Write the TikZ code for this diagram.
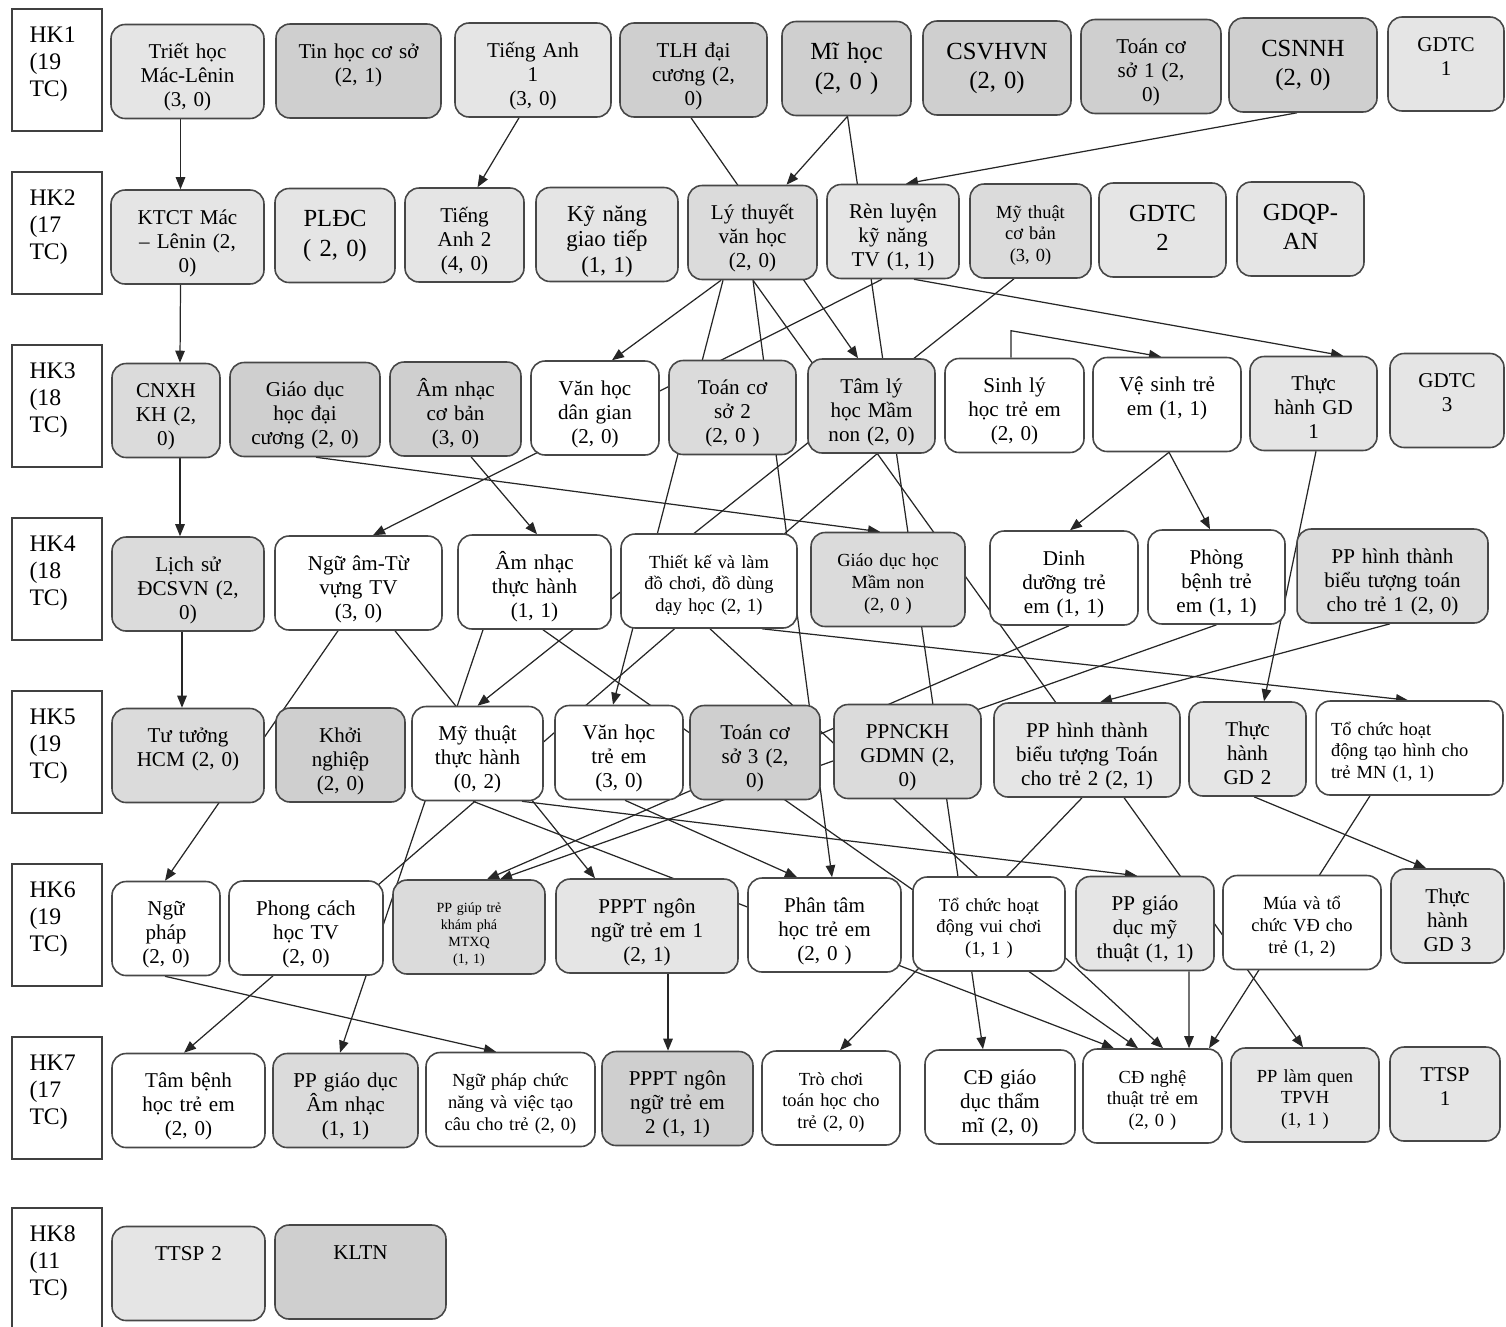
\documentclass[tikz,border=0pt]{standalone}
\usepackage{fontspec}
\setmainfont{Liberation Serif}
\usetikzlibrary{arrows.meta,calc,backgrounds}

\begin{document}
\begin{tikzpicture}[x=0.02cm, y=-0.02cm]
        \tikzstyle{hocky}=[draw=black!75, line width=0.9pt, fill=white, rectangle, align=left, text width=1.1cm, inner xsep=0.35cm, inner ysep=0pt, text height=0.66cm, text depth=1.78cm, font=\fontsize{13.5}{15.4}\selectfont]
        \tikzstyle{mon}=[draw=black!72, line width=0.9pt, rounded corners=0.28cm, fill=white, align=center, inner xsep=0.1cm, inner ysep=0pt, text height=0.68cm, text depth=1.2cm, font=\fontsize{12}{13.7}\selectfont]
        \tikzstyle{chulon}=[text height=0.76cm, text depth=1.12cm, font=\fontsize{14}{16.8}\selectfont]
        \tikzstyle{chunho}=[font=\fontsize{10.5}{12.5}\selectfont]
        \tikzstyle{chutinho}=[text height=0.64cm, text depth=1.24cm, font=\fontsize{8}{9.8}\selectfont]
        \tikzstyle{xamnhat}=[fill=black!10]
        \tikzstyle{xam}=[fill=black!14]
        \tikzstyle{xamdam}=[fill=black!19]
        \tikzstyle{day}=[line width=0.7pt, draw=black!85]
        \tikzstyle{mui}=[day, -{Triangle[length=2.4mm, width=1.9mm]}]

        \useasboundingbox (0,0) rectangle (1506,1326);

        \node (hk1) at (57,70)[hocky]{HK1\\(19\\TC)};
        \node (hk2) at (57,233)[hocky]{HK2\\(17\\TC)};
        \node (hk3) at (57,406)[hocky]{HK3\\(18\\TC)};
        \node (hk4) at (57,579)[hocky]{HK4\\(18\\TC)};
        \node (hk5) at (57,752)[hocky]{HK5\\(19\\TC)};
        \node (hk6) at (57,925)[hocky]{HK6\\(19\\TC)};
        \node (hk7) at (57,1098)[hocky]{HK7\\(17\\TC)};
        \node (hk8) at (57,1269)[hocky]{HK8\\(11\\TC)};

        \node (tr) at (187.5,71.5)[mon, xamnhat, text width=2.86cm]{Triết học\\Mác-Lênin\\(3, 0)};
        \node (th) at (358.5,71)[mon, xamdam, text width=3.1cm]{Tin học cơ sở\\(2, 1)};
        \node (ta1) at (533,70)[mon, xamnhat, text width=2.92cm]{Tiếng Anh\\1\\(3, 0)};
        \node (tlh) at (693.5,70)[mon, xamdam, text width=2.74cm]{TLH đại\\cương (2,\\0)};
        \node (mh) at (846.5,68.5)[mon, chulon, xamdam, text width=2.38cm]{Mĩ học\\(2, 0 )};
        \node (csv) at (997,68)[mon, chulon, xamdam, text width=2.76cm]{CSVHVN\\(2, 0)};
        \node (tcs1) at (1151,66.5)[mon, xamdam, text width=2.6cm]{Toán cơ\\sở 1 (2,\\0)};
        \node (csn) at (1303,65)[mon, chulon, xamdam, text width=2.76cm]{CSNNH\\(2, 0)};
        \node (gd1) at (1446,64)[mon, xamnhat, text width=2.12cm]{GDTC\\1};

        \node (ktct) at (187.5,237)[mon, xamnhat, text width=2.86cm]{KTCT Mác\\– Lênin (2,\\0)};
        \node (pldc) at (335,235.5)[mon, chulon, xamnhat, text width=2.2cm]{PLĐC\\( 2, 0)};
        \node (ta2) at (464.5,235)[mon, xamnhat, text width=2.18cm]{Tiếng\\Anh 2\\(4, 0)};
        \node (kn) at (607,234.5)[mon, xamnhat, text width=2.64cm, font=\fontsize{13}{14.5}\selectfont]{Kỹ năng\\giao tiếp\\(1, 1)};
        \node (ltvh) at (752.5,232.5)[mon, xam, text width=2.38cm]{Lý thuyết\\văn học\\(2, 0)};
        \node (rl) at (893,231.5)[mon, xamnhat, text width=2.44cm]{Rèn luyện\\kỹ năng\\TV (1, 1)};
        \node (mtcb) at (1030.5,231)[mon, chunho, xam, text width=2.22cm]{Mỹ thuật\\cơ bản\\(3, 0)};
        \node (gd2) at (1162.5,230)[mon, chulon, xamnhat, text width=2.34cm]{GDTC\\2};
        \node (gdqp) at (1300.5,229)[mon, chulon, xamnhat, text width=2.34cm]{GDQP-\\AN};

        \node (cnxh) at (166,410.5)[mon, xam, text width=1.96cm]{CNXH\\KH (2,\\0)};
        \node (gdhdc) at (305,409.5)[mon, xamdam, text width=2.8cm]{Giáo dục\\học đại\\cương (2, 0)};
        \node (ancb) at (455.5,409)[mon, xamdam, text width=2.42cm]{Âm nhạc\\cơ bản\\(3, 0)};
        \node (vhdg) at (595,408)[mon, text width=2.36cm]{Văn học\\dân gian\\(2, 0)};
        \node (tcs2) at (732.5,407.5)[mon, xam, text width=2.34cm]{Toán cơ\\sở 2\\(2, 0 )};
        \node (tly) at (871.5,406)[mon, xam, text width=2.34cm]{Tâm lý\\học Mầm\\non (2, 0)};
        \node (sly) at (1014.5,405.5)[mon, text width=2.58cm]{Sinh lý\\học trẻ em\\(2, 0)};
        \node (vs) at (1167,404.5)[mon, text width=2.76cm]{Vệ sinh trẻ\\em (1, 1)};
        \node (th1) at (1313.5,403.5)[mon, xamnhat, text width=2.34cm]{Thực\\hành GD\\1};
        \node (gd3) at (1447,400.5)[mon, xamnhat, text width=2.08cm]{GDTC\\3};

        \node (ls) at (188,584)[mon, xam, text width=2.84cm]{Lịch sử\\ĐCSVN (2,\\0)};
        \node (nat) at (358.5,583)[mon, text width=3.14cm]{Ngữ âm-Từ\\vựng TV\\(3, 0)};
        \node (anth) at (534.5,582)[mon, text width=2.86cm]{Âm nhạc\\thực hành\\(1, 1)};
        \node (tk) at (709,581)[mon, chunho, text width=3.32cm]{Thiết kế và làm\\đồ chơi, đồ dùng\\dạy học (2, 1)};
        \node (gdmn) at (888,579.5)[mon, chunho, xam, text width=2.88cm]{Giáo dục học\\Mầm non\\(2, 0 )};
        \node (dd) at (1064,578)[mon, text width=2.76cm]{Dinh\\dưỡng trẻ\\em (1, 1)};
        \node (pb) at (1216.5,577)[mon, text width=2.54cm]{Phòng\\bệnh trẻ\\em (1, 1)};
        \node (ppht1) at (1392.5,576)[mon, xam, text width=3.62cm]{PP hình thành\\biểu tượng toán\\cho trẻ 1 (2, 0)};

        \node (tthcm) at (188,755.5)[mon, xam, text width=2.84cm]{Tư tưởng\\HCM (2, 0)};
        \node (kng) at (340.5,755)[mon, xamdam, text width=2.38cm]{Khởi\\nghiệp\\(2, 0)};
        \node (mttt) at (477.5,753.5)[mon, text width=2.42cm]{Mỹ thuật\\thực hành\\(0, 2)};
        \node (vhte) at (619,752.5)[mon, text width=2.36cm]{Văn học\\trẻ em\\(3, 0)};
        \node (tcs3) at (755,752.5)[mon, xamdam, text width=2.4cm]{Toán cơ\\sở 3 (2,\\0)};
        \node (ppnc) at (907.5,751.5)[mon, xam, text width=2.74cm]{PPNCKH\\GDMN (2,\\0)};
        \node (ppht2) at (1087,750)[mon, xamnhat, text width=3.52cm]{PP hình thành\\biểu tượng Toán\\cho trẻ 2 (2, 1)};
        \node (th2) at (1247.5,749)[mon, xamnhat, text width=2.14cm]{Thực\\hành\\GD 2};
        \node (tcth) at (1409.5,748)[mon, chunho, align=left, inner xsep=0.3cm, text width=3.14cm]{Tổ chức hoạt\\động tạo hình cho\\trẻ MN (1, 1)};

        \node (np) at (166,928.5)[mon, text width=1.96cm]{Ngữ\\pháp\\(2, 0)};
        \node (pc) at (306,928)[mon, text width=2.88cm]{Phong cách\\học TV\\(2, 0)};
        \node (ppg) at (469,927)[mon, chutinho, xam, text width=2.84cm]{PP giúp trẻ\\khám phá\\MTXQ\\(1, 1)};
        \node (pppt1) at (647,926)[mon, xamnhat, text width=3.44cm]{PPPT ngôn\\ngữ trẻ em 1\\(2, 1)};
        \node (pt) at (824.5,925)[mon, text width=2.86cm]{Phân tâm\\học trẻ em\\(2, 0 )};
        \node (tcvc) at (989,924)[mon, chunho, text width=2.84cm]{Tổ chức hoạt\\động vui chơi\\(1, 1 )};
        \node (ppmt) at (1145,923.5)[mon, xamnhat, text width=2.56cm]{PP giáo\\dục mỹ\\thuật (1, 1)};
        \node (mua) at (1302,922.5)[mon, chunho, text width=2.96cm]{Múa và tổ\\chức VĐ cho\\trẻ (1, 2)};
        \node (th3) at (1447.5,916)[mon, xamnhat, text width=2.06cm]{Thực\\hành\\GD 3};

        \node (tb) at (188.5,1100.5)[mon, text width=2.86cm]{Tâm bệnh\\học trẻ em\\(2, 0)};
        \node (ppan) at (345.5,1100.5)[mon, xam, text width=2.7cm]{PP giáo dục\\Âm nhạc\\(1, 1)};
        \node (npcn) at (510.5,1099.5)[mon, chunho, text width=3.18cm]{Ngữ pháp chức\\năng và việc tạo\\câu cho trẻ (2, 0)};
        \node (pppt2) at (677.5,1098.5)[mon, xamdam, text width=2.82cm]{PPPT ngôn\\ngữ trẻ em\\2 (1, 1)};
        \node (tc) at (831,1098)[mon, chunho, text width=2.56cm]{Trò chơi\\toán học cho\\trẻ (2, 0)};
        \node (cdtm) at (1000,1097)[mon, text width=2.8cm]{CĐ giáo\\dục thẩm\\mĩ (2, 0)};
        \node (cdnt) at (1152.5,1096)[mon, chunho, text width=2.58cm]{CĐ nghệ\\thuật trẻ em\\(2, 0 )};
        \node (pplq) at (1305,1095)[mon, chunho, xamnhat, text width=2.76cm]{PP làm quen\\TPVH\\(1, 1 )};
        \node (tt1) at (1445,1094)[mon, xamnhat, text width=2cm]{TTSP\\1};

        \node (tt2) at (188.5,1273.5)[mon, xamnhat, text width=2.86cm]{TTSP 2};
        \node (kl) at (360.5,1272)[mon, xamdam, text width=3.22cm]{KLTN};

        \begin{pgfonlayer}{background}
        \draw[mui] ($(tr.south)+(-7,0)$) -- ($(ktct.north)+(-7,0)$);
        \draw[mui] ($(ktct.south)+(-7,0)$) -- ($(cnxh.north)+(14,0)$);
        \draw[mui] ($(cnxh.south)+(14,0)$) -- ($(ls.north)+(-8,0)$);
        \draw[mui] ($(ls.south)+(-6,0)$) -- ($(tthcm.north)+(-6,0)$);

        \draw[mui] ($(ta1.south)+(-14,0)$) -- ($(ta2.north)+(13,0)$);
        \draw[mui] ($(tlh.south)+(-2.5,0)$) -- ($(tly.north)+(-13.5,0)$);
        \draw[mui] ($(mh.south)+(1,0)$) -- ($(ltvh.north)+(34,0)$);
        \draw[mui] ($(mh.south)+(1,0)$) -- ($(cdtm.north)+(-17,0)$);
        \draw[mui] ($(csn.south)+(-6,0)$) -- ($(rl.north)+(13,0)$);

        \draw[mui] ($(ltvh.south)+(-31.5,0)$) -- ($(vhdg.north)+(17,0)$);
        \draw[mui] ($(ltvh.south)+(-29.5,0)$) -- ($(vhte.north)+(-6,0)$);
        \draw[mui] ($(ltvh.south)+(0.5,0)$) -- ($(pt.north)+(7.5,0)$);
        \draw[mui] ($(ltvh.south)+(0.5,0)$) -- ($(pplq.north)+(-2,0)$);
        \draw[mui] ($(rl.south)+(-11,0)$) -- ($(nat.north)+(14.5,0)$);
        \draw[mui] ($(rl.south)+(21,0)$) -- ($(th1.north)+(29.5,0)$);
        \draw[mui] ($(mtcb.south)+(-16.5,0)$) -- (mttt.north);
        \draw[mui] ($(sly.north)+(-3.5,0)$) -- ++(0,-27) -- ($(vs.north)+(-6,0)$);

        \draw[mui] ($(gdhdc.south)+(11,0)$) -- ($(gdmn.north)+(-8,0)$);
        \draw[mui] ($(ancb.south)+(15.5,0)$) -- ($(anth.north)+(2.5,0)$);
        \draw[mui] ($(tly.south)+(5.5,0)$) -- ($(tb.north)+(-4.5,0)$);
        \draw[mui] ($(vs.south)+(2,0)$) -- ($(dd.north)+(6,0)$);
        \draw[mui] ($(vs.south)+(2,0)$) -- ($(pb.north)+(-6.5,0)$);
        \draw[mui] ($(th1.south)+(2.5,0)$) -- ($(th2.north)+(16.5,0)$);

        \draw[mui] ($(nat.south)+(-20.5,0)$) -- ($(np.north)+(-1,0)$);
        \draw[mui] ($(nat.south)+(36.5,0)$) -- ($(pppt1.north)+(-52,0)$);
        \draw[mui] ($(anth.south)+(-51.5,0)$) -- ($(ppan.north)+(-5.5,0)$);
        \draw[mui] ($(anth.south)+(8.5,0)$) -- ($(cdnt.north)+(-14.5,0)$);
        \draw[mui] ($(tk.south)+(1,0)$) -- ($(cdnt.north)+(10.5,0)$);
        \draw[mui] ($(tk.south)+(53,0)$) -- ($(tcth.north)+(-1.5,0)$);
        \draw[mui] ($(dd.south)+(5,0)$) -- ($(ppg.north)+(18,0)$);
        \draw[mui] (pb.south) -- ($(ppg.north)+(31,0)$);
        \draw[mui] ($(ppht1.south)+(-2.5,0)$) -- ($(ppht2.north)+(13,0)$);

        \draw[mui] ($(mttt.south)+(-4.5,0)$) -- ($(cdnt.north)+(-38.5,0)$);
        \draw[mui] ($(mttt.south)+(44.5,0)$) -- ($(ppmt.north)+(-8,0)$);
        \draw[mui] ($(vhte.south)+(6,0)$) -- ($(pt.north)+(-27.5,0)$);
        \draw[mui] ($(ppht2.south)+(-5,0)$) -- ($(tc.north)+(9,0)$);
        \draw[mui] ($(th2.south)+(6.5,0)$) -- ($(th3.north)+(-21.5,0)$);
        \draw[mui] ($(tcth.south)+(-39.5,0)$) -- ($(cdnt.north)+(56.5,0)$);

        \draw[mui] ($(np.south)+(-1,0)$) -- ($(npcn.north)+(-14.5,0)$);
        \draw[mui] ($(pppt1.south)+(21,0)$) -- ($(pppt2.north)+(-9.5,0)$);
        \draw[mui] ($(ppmt.south)+(44,0)$) -- ($(cdnt.north)+(36.5,0)$);
        \end{pgfonlayer}
      \end{tikzpicture}
\end{document}
